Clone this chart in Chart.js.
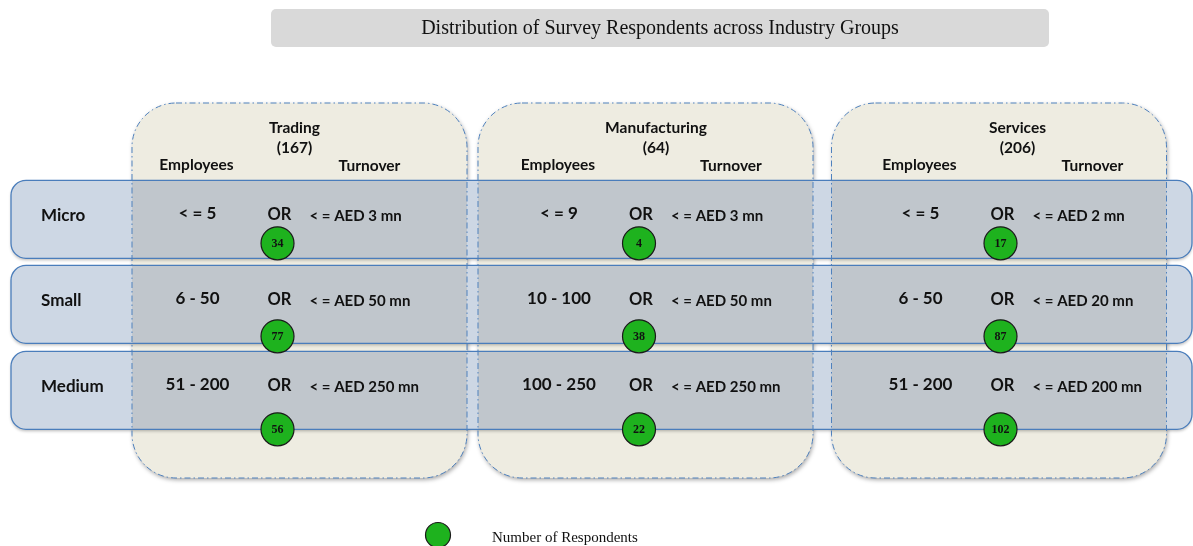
<!DOCTYPE html>
<html><head><meta charset="utf-8">
<script src="https://cdn.jsdelivr.net/npm/chart.js@4.4.1/dist/chart.umd.min.js"></script>
<style>html,body{margin:0;padding:0;background:#fff;overflow:hidden}#wrap{width:1193px;height:546px;position:relative}</style>
</head><body><div id="wrap"><canvas id="c" width="1193" height="546"></canvas></div>
<script>
// ---- data ----
const chartTitle = 'Distribution of Survey Respondents across Industry Groups';
const industries = ['Trading', 'Manufacturing', 'Services'];
const industryTotals = [167, 64, 206];
const sizeClasses = ['Micro', 'Small', 'Medium'];
const respondentsTrading = [34, 77, 56];
const respondentsManufacturing = [4, 38, 22];
const respondentsServices = [17, 87, 102];
const employeesTrading = ['< = 5', '6 - 50', '51 - 200'];
const employeesManufacturing = ['< = 9', '10 - 100', '100 - 250'];
const employeesServices = ['< = 5', '6 - 50', '51 - 200'];
const turnoverTrading = ['3', '50', '250'];
const turnoverManufacturing = ['3', '50', '250'];
const turnoverServices = ['2', '20', '200'];
const legendLabel = 'Number of Respondents';

const respondents = [respondentsTrading, respondentsManufacturing, respondentsServices];
const employees = [employeesTrading, employeesManufacturing, employeesServices];
const turnover = [turnoverTrading, turnoverManufacturing, turnoverServices];

const points = [];
industries.forEach((ind, i) => sizeClasses.forEach((sz, j) => points.push({x: ind, y: sz, v: respondents[i][j]})));

// ---- decoration layout (styles, relative to scale positions) ----
const SANS = 'Lato, "Open Sans", "DejaVu Sans", sans-serif';
const SERIF = '"Liberation Serif", "DejaVu Serif", serif';
const LAY = {
  panelDx: [22, 6.5, -1.5], panelW: 335, panelTopDy: -140.3, panelBottomDy: 48.7, panelR: 44,
  bandDy: [-24, -32, -39], bandH: 78, bandLeft: 11, bandRight: 1192, bandR: 15
};
const COL = {
  panelFill: '#eeece1', panelStroke: '#4f81bd',
  bandFill: '#cdd7e4', bandOverlap: '#c0c6cc', bandStroke: '#4a7dbb',
  text: '#111', titleBox: '#d9d9d9', green: '#1eb21e'
};

function rr(ctx, x, y, w, h, r) {
  ctx.beginPath();
  ctx.moveTo(x + r, y);
  ctx.lineTo(x + w - r, y); ctx.arcTo(x + w, y, x + w, y + r, r);
  ctx.lineTo(x + w, y + h - r); ctx.arcTo(x + w, y + h, x + w - r, y + h, r);
  ctx.lineTo(x + r, y + h); ctx.arcTo(x, y + h, x, y + h - r, r);
  ctx.lineTo(x, y + r); ctx.arcTo(x, y, x + r, y, r);
  ctx.closePath();
}
function txt(ctx, s, x, y, font, align) {
  ctx.font = font; ctx.textAlign = align || 'center'; ctx.textBaseline = 'middle';
  ctx.fillStyle = COL.text; ctx.fillText(s, x, y);
}

const deco = {
  id: 'deco',
  beforeDatasetsDraw(chart) {
    const ctx = chart.ctx, xs = chart.scales.x, ys = chart.scales.y;
    const px = i => xs.getPixelForValue(i), py = j => ys.getPixelForValue(j);
    ctx.save();
    // title box
    rr(ctx, 271, 9, 778, 38, 5); ctx.fillStyle = COL.titleBox; ctx.fill();
    txt(ctx, chartTitle, 660, 29, '20px ' + SERIF);

    const panel = i => {
      const x = px(i) + LAY.panelDx[i] - LAY.panelW / 2;
      const top = py(0) + LAY.panelTopDy, bot = py(2) + LAY.panelBottomDy;
      rr(ctx, x, top, LAY.panelW, bot - top, LAY.panelR);
    };
    const band = j => {
      const c = py(j) + LAY.bandDy[j];
      rr(ctx, LAY.bandLeft, c - LAY.bandH / 2, LAY.bandRight - LAY.bandLeft, LAY.bandH, LAY.bandR);
    };
    industries.forEach((_, i) => {
      ctx.save();
      ctx.shadowColor = 'rgba(0,0,0,0.35)'; ctx.shadowBlur = 4; ctx.shadowOffsetX = 1; ctx.shadowOffsetY = 2;
      panel(i); ctx.fillStyle = COL.panelFill; ctx.fill();
      ctx.restore();
    });
    sizeClasses.forEach((_, j) => {
      ctx.save();
      ctx.shadowColor = 'rgba(0,0,0,0.25)'; ctx.shadowBlur = 3; ctx.shadowOffsetY = 2;
      band(j); ctx.fillStyle = COL.bandFill; ctx.fill();
      ctx.restore();
      industries.forEach((_, i) => {
        ctx.save(); panel(i); ctx.clip();
        band(j); ctx.fillStyle = COL.bandOverlap; ctx.fill();
        ctx.restore();
      });
      band(j); ctx.strokeStyle = COL.bandStroke; ctx.lineWidth = 1.3; ctx.stroke();
    });
    industries.forEach((_, i) => {
      ctx.save(); panel(i);
      ctx.setLineDash([6, 3, 1.5, 3]); ctx.strokeStyle = COL.panelStroke; ctx.lineWidth = 1; ctx.stroke();
      ctx.restore();
    });
    const y0 = py(0);
    const hf = 'bold 15.5px ' + SANS;
    industries.forEach((name, i) => {
      const x = px(i);
      txt(ctx, name, x + 17, y0 - 115, hf);
      txt(ctx, '(' + industryTotals[i] + ')', x + 17, y0 - 95, hf);
      txt(ctx, 'Employees', x - 81, y0 - 78, hf);
      txt(ctx, 'Turnover', x + 92, y0 - 77, hf);
    });
    sizeClasses.forEach((sz, j) => {
      const bc = py(j) + LAY.bandDy[j];
      txt(ctx, sz, 41, bc - 4, 'bold 17px ' + SANS, 'left');
      industries.forEach((_, i) => {
        const x = px(i);
        txt(ctx, employees[i][j], x - 80, bc - 6, 'bold 17px ' + SANS);
        txt(ctx, 'OR', x + 2, bc - 5, 'bold 16.5px ' + SANS);
        txt(ctx, '< = AED ' + turnover[i][j] + ' mn', x + 32, bc - 3, 'bold 15px ' + SANS, 'left');
      });
    });
    ctx.restore();
  },
  afterDatasetsDraw(chart) {
    const ctx = chart.ctx, meta = chart.getDatasetMeta(0);
    ctx.save();
    meta.data.forEach((el, k) => {
      txt(ctx, String(points[k].v), el.x, el.y + 1, 'bold 12px ' + SERIF);
    });
    ctx.beginPath(); ctx.arc(438, 535, 12.5, 0, Math.PI * 2);
    ctx.fillStyle = COL.green; ctx.fill(); ctx.strokeStyle = '#1a1a1a'; ctx.lineWidth = 1.2; ctx.stroke();
    txt(ctx, legendLabel, 492, 538, '15px ' + SERIF, 'left');
    ctx.restore();
  }
};

new Chart(document.getElementById('c'), {
  type: 'scatter',
  data: { datasets: [{ label: legendLabel, data: points, pointRadius: 16.5, pointHoverRadius: 16.5,
    backgroundColor: COL.green, borderColor: '#1a1a1a', borderWidth: 1.2 }] },
  options: {
    responsive: false, maintainAspectRatio: false, animation: false, events: [],
    layout: { autoPadding: false, padding: { left: 96.75, right: 11.75, top: 196.8, bottom: 70.2 } },
    scales: {
      x: { type: 'category', labels: industries, offset: true, display: false },
      y: { type: 'category', labels: sizeClasses, offset: true, display: false }
    },
    plugins: { legend: { display: false }, tooltip: { enabled: false } },
    clip: false
  },
  plugins: [deco]
});
</script></body></html>
